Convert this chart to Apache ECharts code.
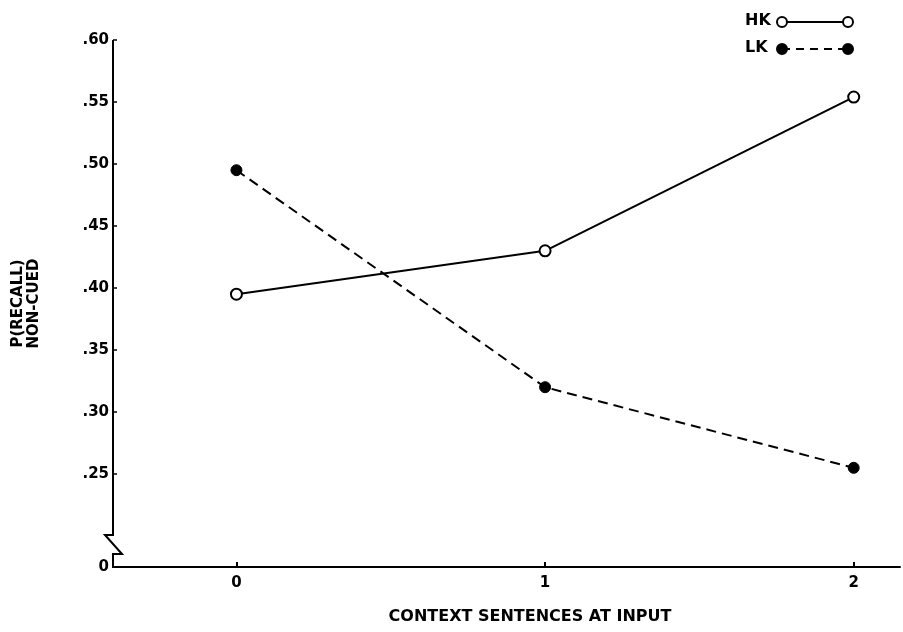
<!DOCTYPE html>
<html>
<head>
<meta charset="utf-8">
<script src="https://cdn.jsdelivr.net/npm/echarts@6/dist/echarts.min.js"></script>
<style>
  html, body { margin: 0; padding: 0; background: #fff; }
  #recallChart { width: 903px; height: 632px; }
</style>
</head>
<body>
<div id="recallChart"></div>
<script>
var contextSentences = [0, 1, 2]
var hkRecall = [0.395, 0.43, 0.554]
var lkRecall = [0.495, 0.32, 0.255]
var yTickValues = [0.25, 0.30, 0.35, 0.40, 0.45, 0.50, 0.55, 0.60]
var yBreakValue = 0.175

var font = 'DejaVu Sans'

function pairs (xs, ys) {
  return xs.map(function (x, i) { return [x, ys[i]] })
}

var chart = echarts.init(document.getElementById('recallChart'))

var options = {
  animation: false,
  grid: { left: 113, right: 3, top: 40, bottom: 65 },
  xAxis: {
    type: 'value',
    min: -0.4,
    max: 2.15,
    name: 'CONTEXT SENTENCES AT INPUT',
    nameLocation: 'middle',
    nameGap: 42,
    nameTextStyle: { color: '#000', fontFamily: font, fontSize: 16, fontWeight: 'bold', padding: [0, 0, 0, 47] },
    axisLine: { onZero: false, lineStyle: { color: '#000', width: 2 } },
    axisTick: { inside: true, length: 5, customValues: contextSentences, lineStyle: { color: '#000', width: 2 } },
    axisLabel: { customValues: contextSentences, margin: 9, color: '#000', fontFamily: font, fontSize: 15, fontWeight: 'bold' },
    splitLine: { show: false }
  },
  yAxis: {
    type: 'value',
    min: yBreakValue,
    max: 0.6,
    name: 'P(RECALL)\nNON-CUED',
    nameLocation: 'middle',
    nameRotate: 90,
    nameGap: 71,
    nameTextStyle: { color: '#000', fontFamily: font, fontSize: 15, fontWeight: 'bold', lineHeight: 16, align: 'center' },
    axisLine: { show: false, onZero: false },
    axisTick: { inside: true, length: 4, customValues: yTickValues, lineStyle: { color: '#000', width: 1.5 } },
    axisLabel: {
      customValues: [yBreakValue].concat(yTickValues),
      margin: 4,
      color: '#000',
      fontFamily: font,
      fontSize: 15,
      fontWeight: 'bold',
      formatter: function (v) {
        if (v < 0.2) return '0'
        return v.toFixed(2).slice(1)
      }
    },
    splitLine: { show: false }
  },
  series: [{
    name: 'HK',
    type: 'line',
    data: pairs(contextSentences, hkRecall),
    symbol: 'circle',
    symbolSize: 11,
    lineStyle: { color: '#000', width: 2 },
    itemStyle: { color: '#fff', borderColor: '#000', borderWidth: 2 },
    z: 3
  }, {
    name: 'LK',
    type: 'line',
    data: pairs(contextSentences, lkRecall),
    symbol: 'circle',
    symbolSize: 11,
    lineStyle: { color: '#000', width: 2, type: [10, 6] },
    itemStyle: { color: '#000', borderColor: '#000', borderWidth: 1 },
    z: 3
  }]
}

chart.setOption(options)

// y axis line with the break, placed from the axis scale
var axisTop = chart.convertToPixel({ gridIndex: 0 }, [-0.4, 0.6])
var corner = chart.convertToPixel({ gridIndex: 0 }, [-0.4, yBreakValue])
var x0 = corner[0]
var y0 = corner[1]

var axisPen = { stroke: '#000', lineWidth: 2, fill: null }

function legendRow (label, y, filled, dashed) {
  var circle = { fill: filled ? '#000' : '#fff', stroke: '#000', lineWidth: 2 }
  return [{
    type: 'text', left: 745, top: y - 9,
    style: { text: label, fill: '#000', font: 'bold 16px ' + font }
  }, {
    type: 'line', shape: { x1: 782, y1: y, x2: 848, y2: y },
    style: { stroke: '#000', lineWidth: 2, lineDash: dashed ? [8, 6] : null }
  }, {
    type: 'circle', shape: { cx: 782, cy: y, r: 5 }, style: circle
  }, {
    type: 'circle', shape: { cx: 848, cy: y, r: 5 }, style: circle
  }]
}

chart.setOption({
  graphic: [{
    type: 'polyline',
    shape: { points: [[x0, axisTop[1]], [x0, y0 - 32], [x0 - 8, y0 - 32], [x0 + 9, y0 - 13], [x0, y0 - 13], [x0, y0 + 1]] },
    style: axisPen,
    z: 10
  }].concat(legendRow('HK', 22, false, false), legendRow('LK', 49, true, true))
})
</script>
</body>
</html>
